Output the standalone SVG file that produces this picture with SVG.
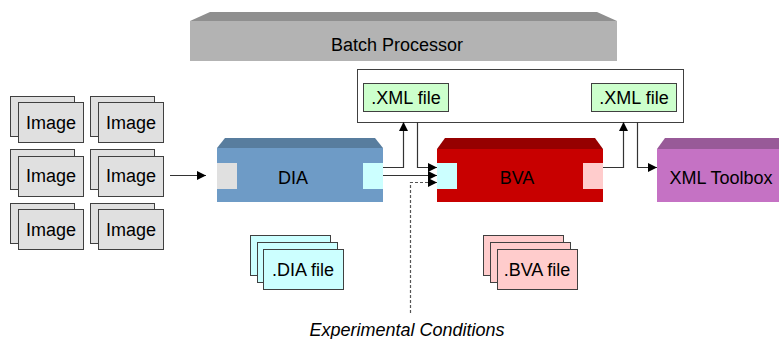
<svg xmlns="http://www.w3.org/2000/svg" width="779" height="339" viewBox="0 0 779 339">
<defs>
<style>
text{font-family:"Liberation Sans",Arial,sans-serif;font-size:18px;fill:#000;text-anchor:middle}
.img{fill:#e0e0e0;stroke:#404040;stroke-width:1}
.xml{fill:#ccffcc;stroke:#404040;stroke-width:1}
.dia{fill:#ccffff;stroke:#404040;stroke-width:1}
.bva{fill:#ffcccc;stroke:#404040;stroke-width:1}
.ln{fill:none;stroke:#333;stroke-width:1.2}
.dash{fill:none;stroke:#555;stroke-width:1.2;stroke-dasharray:3,2}
</style>
<marker id="ah" viewBox="0 0 10 10" refX="10" refY="5" markerWidth="9" markerHeight="9" markerUnits="userSpaceOnUse" orient="auto">
<path d="M0,0 L10,5 L0,10 z" fill="#000"/>
</marker>
</defs>

<g id="batch">
<polygon points="190,21 210,12 597,12 617,21" fill="#8f8f8f"/>
<rect x="190" y="21" width="427" height="40" fill="#b3b3b3"/>
<text x="397" y="51">Batch Processor</text>
</g>

<g id="xmlframe">
<rect x="357.5" y="69.5" width="326" height="53" fill="#fff" stroke="#404040"/>
</g>
<g id="xml1">
<rect class="xml" x="363.5" y="83.5" width="85" height="28"/>
<text x="406" y="104">.XML file</text>
</g>
<g id="xml2">
<rect class="xml" x="591.5" y="83.5" width="85" height="28"/>
<text x="634" y="104">.XML file</text>
</g>

<g id="images">
<g id="img1"><rect class="img" x="10.5" y="96.5" width="64" height="40"/><rect class="img" x="18.5" y="102.5" width="65" height="40"/><text x="51" y="129">Image</text></g>
<g id="img2"><rect class="img" x="90.5" y="96.5" width="64" height="40"/><rect class="img" x="98.5" y="102.5" width="65" height="40"/><text x="131" y="129">Image</text></g>
<g id="img3"><rect class="img" x="10.5" y="149.5" width="64" height="40"/><rect class="img" x="18.5" y="156.5" width="65" height="40"/><text x="51" y="182">Image</text></g>
<g id="img4"><rect class="img" x="90.5" y="149.5" width="64" height="40"/><rect class="img" x="98.5" y="156.5" width="65" height="40"/><text x="131" y="182">Image</text></g>
<g id="img5"><rect class="img" x="10.5" y="203.5" width="64" height="40"/><rect class="img" x="18.5" y="209.5" width="65" height="40"/><text x="51" y="236">Image</text></g>
<g id="img6"><rect class="img" x="90.5" y="203.5" width="64" height="40"/><rect class="img" x="98.5" y="209.5" width="65" height="40"/><text x="131" y="236">Image</text></g>
</g>

<g id="dia">
<polygon points="217,148 225,138 375,138 383,148" fill="#587d9e"/>
<rect x="217" y="148" width="166" height="54" fill="#6e9bc6"/>
<rect x="217" y="163" width="20" height="26" fill="#e0e0e0"/>
<rect x="363" y="163" width="20" height="26" fill="#ccffff"/>
<text x="293" y="184">DIA</text>
</g>

<g id="bva">
<polygon points="437,149 445,138 595,138 603,149" fill="#960000"/>
<rect x="437" y="149" width="166" height="53" fill="#c80000"/>
<rect x="437" y="163" width="20" height="26" fill="#ccffff"/>
<rect x="583" y="163" width="20" height="26" fill="#ffcccc"/>
<text x="517" y="184">BVA</text>
</g>

<g id="toolbox">
<polygon points="657,149 665,138 790,138 790,149" fill="#985a98"/>
<rect x="657" y="149" width="130" height="53" fill="#c572c4"/>
<text x="721" y="184">XML Toolbox</text>
</g>

<g id="diafile">
<rect class="dia" x="250.5" y="235.5" width="80" height="40"/>
<rect class="dia" x="257.5" y="242.5" width="80" height="40"/>
<rect class="dia" x="263.5" y="249.5" width="80" height="40"/>
<text x="303" y="276">.DIA file</text>
</g>

<g id="bvafile">
<rect class="bva" x="483.5" y="235.5" width="80" height="40"/>
<rect class="bva" x="490.5" y="242.5" width="80" height="40"/>
<rect class="bva" x="497.5" y="249.5" width="80" height="40"/>
<text x="537" y="276">.BVA file</text>
</g>

<g id="conditions">
<text x="407" y="336" style="font-style:italic">Experimental Conditions</text>
</g>

<g id="connectors">
<line class="ln" x1="170" y1="175.5" x2="206" y2="175.5" marker-end="url(#ah)"/>
<polyline class="ln" points="383,167.5 403.5,167.5 403.5,122" marker-end="url(#ah)"/>
<polyline class="ln" points="417.5,122 417.5,167.5 437,167.5" marker-end="url(#ah)"/>
<line class="ln" x1="383" y1="175.5" x2="437" y2="175.5" marker-end="url(#ah)"/>
<polyline class="dash" points="410.5,313 410.5,182.5 437,182.5" marker-end="url(#ah)"/>
<polyline class="ln" points="603,167.5 623.5,167.5 623.5,122" marker-end="url(#ah)"/>
<polyline class="ln" points="637.5,122 637.5,167.5 657,167.5" marker-end="url(#ah)"/>
</g>
</svg>
